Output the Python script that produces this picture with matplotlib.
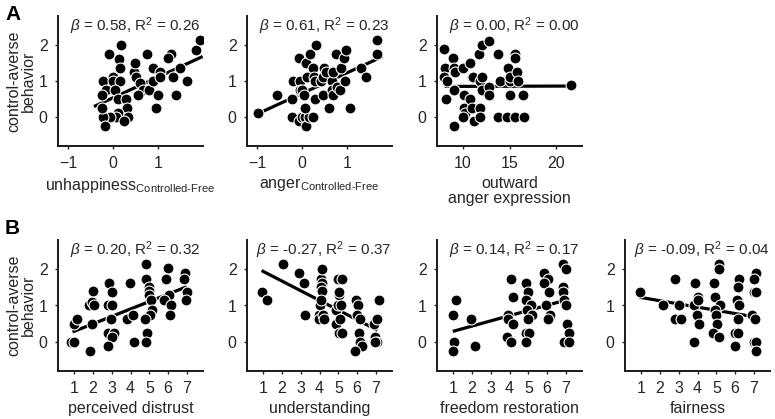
import numpy as np
import matplotlib
matplotlib.use('Agg')
from matplotlib import pyplot as plt

plt.rcParams['font.family'] = ['Liberation Sans', 'DejaVu Sans']
plt.rcParams['mathtext.fontset'] = 'custom'
plt.rcParams['mathtext.rm'] = 'Liberation Sans'
plt.rcParams['mathtext.it'] = 'Liberation Sans:italic'

# ---- data ----
# A1: unhappiness (Controlled-Free)
a1_x = [-0.09, 0.19, 0.13, 0.16, -0.22, -0.15, -0.24, 0.0, 0.0, 0.15, 0.04, 0.11, 0.3, 0.31,
        0.11, 0.06, -0.07, -0.22, 0.33, 0.24, -0.18, -0.24, 0.46, 0.5, 0.52, 0.59, 0.67, 0.56,
        0.81, 0.76, 0.89, 0.89, 1.0, 0.96, 1.04, 1.05, 1.28, 1.22, 1.33, 1.48, 1.41, 1.64, 1.85, 1.93]
a1_y = [1.75, 2.0, 1.61, 1.37, 1.0, 0.76, 0.62, 1.1, 1.0, 1.0, 0.76, 0.5, 0.5, 0.25,
        0.11, 0.0, 0.0, 0.0, 0.0, -0.12, -0.26, 0.25, 1.26, 1.5, 1.12, 0.94, 0.76, 0.62,
        0.76, 1.75, 1.36, 1.0, 0.62, 0.25, 1.26, 1.12, 1.75, 1.63, 1.12, 1.37, 0.62, 1.0, 1.86, 2.14]
# A2: anger (Controlled-Free)
a2_x = [-0.98, -0.56, -0.22, -0.2, -0.07, -0.04, -0.04, 0.0, 0.04, -0.22, -0.07, 0.0, 0.07, 0.1,
        0.15, 0.24, 0.07, 0.1, 0.19, 0.32, 0.11, 0.24, 0.26, 0.3, 0.3, 0.42, 0.47, 0.5, 0.54,
        0.47, 0.61, 0.67, 0.69, 0.67, 0.7, 0.78, 0.76, 0.85, 0.87, 0.93, 0.97, 0.95, 1.06,
        1.32, 1.43, 1.67, 1.67]
a2_y = [0.11, 0.62, 0.5, 1.0, 1.63, 1.0, 0.76, 0.76, 0.62, 0.0, -0.12, 0.0, 0.0, -0.26,
        0.0, 0.0, 0.25, 1.5, 1.75, 2.0, 1.12, 1.37, 1.12, 1.0, 0.5, 1.0, 1.12, 1.37, 1.26,
        0.62, 0.25, 1.0, 1.26, 0.76, 0.62, 0.83, 1.75, 0.76, 1.37, 1.63, 1.86, 1.0, 0.25,
        1.37, 1.12, 1.75, 2.14]
# A3: outward anger expression
a3_x = [8.0, 8.1, 8.0, 8.29, 8.2, 8.93, 9.0, 9.18, 9.0, 9.07, 10.0, 10.07, 10.07, 10.25, 10.0,
        10.8, 10.8, 11.0, 11.1, 11.0, 11.2, 11.7, 12.0, 11.86, 12.0, 12.0, 11.86, 11.8, 12.75,
        12.75, 12.75, 13.75, 14.0, 13.8, 14.7, 14.8, 15.0, 15.0, 15.0, 15.6, 15.6, 15.8, 15.9,
        15.6, 16.5, 16.6, 21.6]
a3_y = [1.88, 1.37, 1.12, 1.0, 0.5, 1.63, 1.37, 1.26, 0.76, -0.26, 1.37, 0.62, 0.25, 0.11, 0.0,
        1.5, 0.5, 1.12, 1.12, 0.25, -0.12, 1.75, 2.0, 1.0, 1.12, 0.76, 0.25, 0.0, 2.12,
        0.83, 0.62, 1.75, 1.0, 0.0, 0.0, 1.37, 1.0, 0.62, 1.12, 1.75, 1.63, 1.26, 1.0,
        0.0, 0.62, 0.0, 0.88]
# B1: perceived distrust
b1_x = [0.85, 1.0, 1.0, 1.14, 1.82, 1.94, 2.0, 2.07, 1.94, 1.85, 2.88, 3.0, 2.83, 3.0, 2.95,
        2.83, 3.1, 3.0, 2.78, 3.95, 3.8, 4.13, 4.16, 4.84, 4.84, 5.0, 4.98, 5.0, 5.08, 5.14,
        5.05, 4.78, 4.87, 4.84, 5.97, 5.88, 6.03, 5.76, 6.15, 6.1, 6.91, 6.83, 7.0, 6.97]
b1_y = [0.0, 0.0, 0.5, 0.62, 1.0, 1.1, 1.4, 1.0, 0.5, -0.25, 1.62, 1.38, 1.0, 1.0, 0.64,
        0.25, 0.25, 0.14, -0.12, 1.62, 0.64, 0.73, 0.0, 2.14, 1.74, 1.5, 1.4, 1.28, 1.15, 0.89,
        0.73, 0.62, 0.25, 0.0, 2.02, 1.74, 1.28, 1.15, 1.0, 0.73, 1.88, 1.74, 1.38, 1.15]
# B2: understanding
b2_x = [0.96, 1.2, 2.08, 2.9, 3.17, 3.24, 3.96, 3.96, 4.0, 4.1, 4.14, 4.14, 4.1, 4.14, 4.06,
        4.19, 4.24, 4.9, 4.9, 5.0, 5.03, 5.03, 5.0, 5.18, 5.09, 5.03, 5.2, 5.14, 5.93, 6.07,
        5.98, 6.16, 6.1, 6.16, 6.25, 5.9, 6.88, 7.06, 7.15, 6.97, 7.06, 6.93]
b2_y = [1.38, 1.15, 2.14, 1.88, 1.62, 0.73, 0.73, 0.62, 1.0, 1.74, 2.0, 1.62, 1.5, 1.4, 1.15,
        0.73, 0.62, 0.5, 0.87, 1.0, 1.28, 1.38, 1.74, 1.74, 0.64, 0.25, 0.25, 1.0, 1.15, 1.0,
        0.73, 0.62, 0.25, 0.0, -0.12, -0.25, 0.5, 0.62, 1.15, 0.14, 0.0, 0.0]
# B3: freedom restoration
b3_x = [1.0, 1.18, 1.07, 0.98, 1.98, 2.19, 4.06, 4.19, 3.94, 3.94, 3.88, 4.06, 4.19, 4.86, 5.0,
        4.9, 5.13, 4.95, 5.18, 5.0, 4.86, 5.04, 4.9, 5.84, 6.02, 5.84, 6.1, 5.93, 6.14, 6.02,
        6.82, 7.0, 6.85, 6.85, 6.9, 7.0, 7.03, 7.14, 6.9, 7.14]
b3_y = [0.73, 1.15, 0.0, -0.25, 0.62, -0.12, 1.74, 1.24, 0.73, 0.62, 0.14, 0.0, 0.5, 1.62, 1.38,
        1.15, 1.0, 0.87, 0.73, 0.62, 0.25, 0.25, 0.0, 1.88, 1.74, 1.62, 1.38, 1.0, 0.73, 0.62,
        2.14, 2.0, 1.5, 1.38, 1.15, 1.0, 0.5, 0.25, 0.0, 0.0]
# B4: fairness
b4_x = [0.96, 2.16, 2.83, 3.0, 2.83, 3.15, 3.87, 3.83, 4.0, 4.05, 3.96, 4.08, 3.83, 4.85, 5.12,
        5.12, 4.94, 5.2, 4.94, 4.98, 5.03, 4.8, 5.12, 6.2, 6.16, 6.1, 6.23, 6.16, 6.0, 6.16,
        5.98, 7.09, 7.0, 6.98, 7.1, 6.88, 7.06, 7.0, 7.1, 7.09]
b4_y = [1.38, 1.0, 1.74, 1.0, 0.62, 0.62, 1.62, 1.0, 1.24, 1.15, 0.73, 0.5, 0.0, 1.62, 2.14,
        2.0, 1.24, 1.0, 0.87, 0.73, 0.5, 0.25, 0.14, 1.74, 1.5, 1.15, 1.0, 0.62, 0.25, 0.25,
        -0.12, 1.88, 1.74, 1.38, 1.38, 0.73, 0.62, 0.0, 0.0, -0.25]

# regression lines (x start, x end, y start, y end)
a1_fit = [-0.39, 1.96, 0.31, 1.66]
a2_fit = [-1.04, 1.76, 0.06, 1.66]
a3_fit = [8.2, 21.6, 0.85, 0.86]
b1_fit = [1.0, 6.91, 0.29, 1.50]
b2_fit = [1.0, 7.0, 1.94, 0.34]
b3_fit = [1.07, 7.0, 0.30, 1.15]
b4_fit = [1.0, 7.0, 1.22, 0.69]

stats = ["0.58, R$^2$ = 0.26", "0.61, R$^2$ = 0.23", "0.00, R$^2$ = 0.00",
         "0.20, R$^2$ = 0.32", "-0.27, R$^2$ = 0.37", "0.14, R$^2$ = 0.17", "-0.09, R$^2$ = 0.04"]
xlabels = ["unhappiness$_{\\mathregular{Controlled\\text{-}Free}}$",
           "anger$_{\\mathregular{Controlled\\text{-}Free}}$",
           "outward\nanger expression",
           "perceived distrust", "understanding", "freedom restoration", "fairness"]

txt = '#262626'
W, H = 775.0, 419.0


def panel(left, bottom, top, x, y, fit, stat, xlab, xlim, xticks, ylab):
    ax = fig.add_axes([left / W, 1 - bottom / H, 145 / W, (bottom - top) / H])
    ax.plot(fit[:2], fit[2:], color='black', lw=2.3, zorder=2)
    ax.scatter(x, y, s=62, c='black', edgecolors='white', linewidths=0.8, zorder=3)
    ax.set_xlim(xlim)
    ax.set_ylim(-0.8, 2.8)
    ax.set_xticks(xticks)
    ax.set_yticks([0, 1, 2])
    for s in ['top', 'right']:
        ax.spines[s].set_visible(False)
    for s in ['left', 'bottom']:
        ax.spines[s].set_linewidth(1.4)
        ax.spines[s].set_color('#1a1a1a')
    ax.tick_params(direction='out', length=2.5, width=1, labelsize=11.5, colors=txt, pad=5)
    ax.set_xlabel(xlab, fontsize=11.5, color=txt, labelpad=3, linespacing=1.05)
    if ylab:
        ax.set_ylabel('control-averse\nbehavior', fontsize=11.5, color=txt, labelpad=2,
                      linespacing=1.0)
    ax.text(0.53, 0.92, r'$\beta$ = ' + stat, transform=ax.transAxes, ha='center', va='center',
            fontsize=11, color=txt)
    return ax


fig = plt.figure(figsize=(7.75, 4.19), dpi=100)

top_x = [a1_x, a2_x, a3_x]
top_y = [a1_y, a2_y, a3_y]
top_fit = [a1_fit, a2_fit, a3_fit]
top_lim = [(-1.22, 2.0), (-1.22, 2.0), (7.2, 22.8)]
top_ticks = [[-1, 0, 1], [-1, 0, 1], [10, 15, 20]]
lefts = [58, 247, 437, 625]
for i in range(3):
    panel(lefts[i], 146, 16, top_x[i], top_y[i], top_fit[i], stats[i], xlabels[i],
          top_lim[i], top_ticks[i], i == 0)

bot_x = [b1_x, b2_x, b3_x, b4_x]
bot_y = [b1_y, b2_y, b3_y, b4_y]
bot_fit = [b1_fit, b2_fit, b3_fit, b4_fit]
for i in range(4):
    panel(lefts[i], 371, 240, bot_x[i], bot_y[i], bot_fit[i], stats[3 + i], xlabels[3 + i],
          (0.15, 7.85), [1, 2, 3, 4, 5, 6, 7], i == 0)

fig.text(5 / W, 1 - 15 / H, 'A', fontsize=15, fontweight='bold', va='center', ha='left')
fig.text(5 / W, 1 - 228 / H, 'B', fontsize=15, fontweight='bold', va='center', ha='left')

plt.savefig('out.png', dpi=100)
plt.close()
